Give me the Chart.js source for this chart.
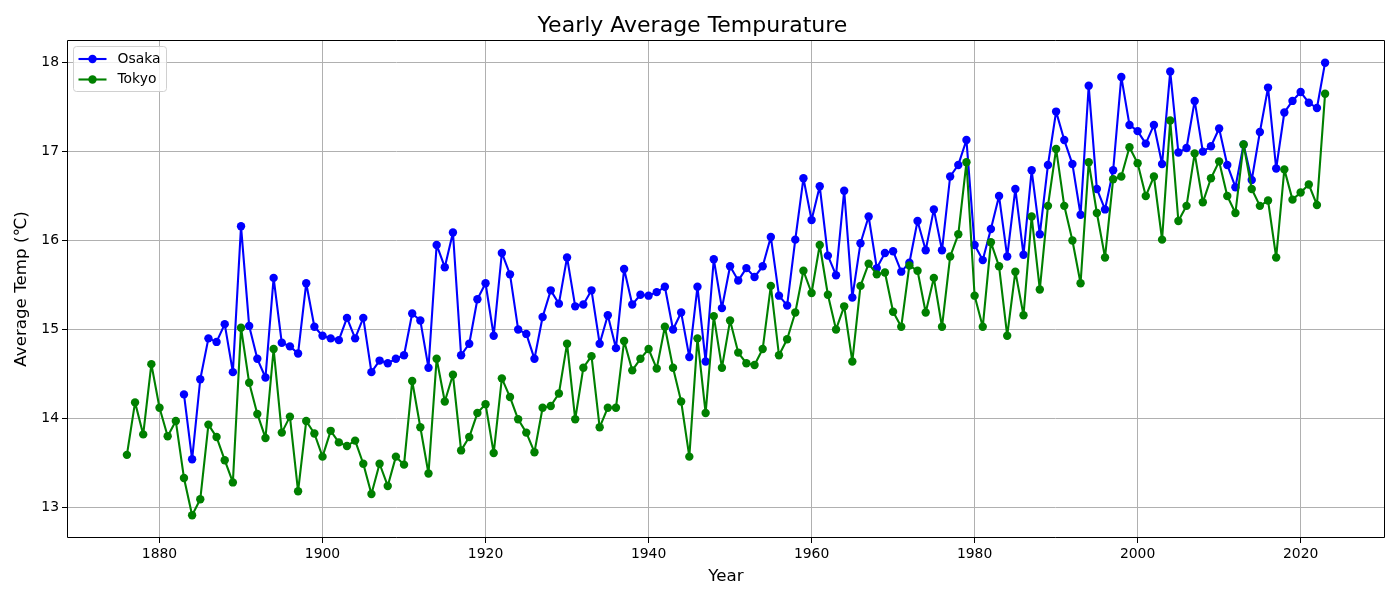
<!DOCTYPE html>
<html>
<head>
<meta charset="utf-8">
<script src="https://cdn.jsdelivr.net/npm/chart.js@4.4.1/dist/chart.umd.min.js"></script>
<style>
  html, body { margin: 0; padding: 0; background: #ffffff; }
  #wrap { width: 1400px; height: 600px; position: relative; }
</style>
</head>
<body>
<div id="wrap"><canvas id="c" width="1400" height="600"></canvas></div>
<script>
// ---- data ----
const chartTitle = "Yearly Average Tempurature";
const xTitle = "Year";
const yTitle = "Average Temp (℃)";
const seriesNames = ["Osaka", "Tokyo"];
const osakaFirstYear = 1883;
const tokyoFirstYear = 1876;
const xTickValues = [1880, 1900, 1920, 1940, 1960, 1980, 2000, 2020];
const yTickValues = [13, 14, 15, 16, 17, 18];

const osakaTemps = [
  14.27, 13.54, 14.44, 14.90, 14.86, 15.06, 14.52,               // 1883-1889
  16.16, 15.04, 14.67, 14.46, 15.58, 14.85, 14.81, 14.73, 15.52, 15.03, // 1890s
  14.93, 14.90, 14.88, 15.13, 14.90, 15.13, 14.52, 14.65, 14.62, 14.67, // 1900s
  14.71, 15.18, 15.10, 14.57, 15.95, 15.70, 16.09, 14.71, 14.84, 15.34, // 1910s
  15.52, 14.93, 15.86, 15.62, 15.00, 14.95, 14.67, 15.14, 15.44, 15.29, // 1920s
  15.81, 15.26, 15.28, 15.44, 14.84, 15.16, 14.79, 15.68, 15.28, 15.39, // 1930s
  15.38, 15.42, 15.48, 15.00, 15.19, 14.69, 15.48, 14.64, 15.79, 15.24, // 1940s
  15.71, 15.55, 15.69, 15.59, 15.71, 16.04, 15.38, 15.27, 16.01, 16.70, // 1950s
  16.23, 16.61, 15.83, 15.61, 16.56, 15.36, 15.97, 16.27, 15.69, 15.86, // 1960s
  15.88, 15.65, 15.75, 16.22, 15.89, 16.35, 15.89, 16.72, 16.85, 17.13, // 1970s
  15.95, 15.78, 16.13, 16.50, 15.82, 16.58, 15.84, 16.79, 16.07, 16.85, // 1980s
  17.45, 17.13, 16.86, 16.29, 17.74, 16.58, 16.35, 16.79, 17.84, 17.30, // 1990s
  17.23, 17.09, 17.30, 16.86, 17.90, 16.99, 17.04, 17.57, 17.00, 17.06, // 2000s
  17.26, 16.85, 16.60, 17.08, 16.68, 17.22, 17.72, 16.81, 17.44, 17.57, // 2010s
  17.67, 17.55, 17.49, 18.00                                            // 2020-2023
];

const tokyoTemps = [
  13.59, 14.18, 13.82, 14.61,                                           // 1876-1879
  14.12, 13.80, 13.97, 13.33, 12.91, 13.09, 13.93, 13.79, 13.53, 13.28, // 1880s
  15.02, 14.40, 14.05, 13.78, 14.78, 13.84, 14.02, 13.18, 13.97, 13.83, // 1890s
  13.57, 13.86, 13.73, 13.69, 13.75, 13.49, 13.15, 13.49, 13.24, 13.57, // 1900s
  13.48, 14.42, 13.90, 13.38, 14.67, 14.19, 14.49, 13.64, 13.79, 14.06, // 1910s
  14.16, 13.61, 14.45, 14.24, 13.99, 13.84, 13.62, 14.12, 14.14, 14.28, // 1920s
  14.84, 13.99, 14.57, 14.70, 13.90, 14.12, 14.12, 14.87, 14.54, 14.67, // 1930s
  14.78, 14.56, 15.03, 14.57, 14.19, 13.57, 14.90, 14.06, 15.15, 14.57, // 1940s
  15.10, 14.74, 14.62, 14.60, 14.78, 15.49, 14.71, 14.89, 15.19, 15.66, // 1950s
  15.41, 15.95, 15.39, 15.00, 15.26, 14.64, 15.49, 15.74, 15.62, 15.64, // 1960s
  15.20, 15.03, 15.72, 15.66, 15.19, 15.58, 15.03, 15.82, 16.07, 16.88, // 1970s
  15.38, 15.03, 15.98, 15.71, 14.93, 15.65, 15.16, 16.27, 15.45, 16.39, // 1980s
  17.03, 16.39, 16.00, 15.52, 16.88, 16.31, 15.81, 16.69, 16.72, 17.05, // 1990s
  16.87, 16.50, 16.72, 16.01, 17.35, 16.22, 16.39, 16.98, 16.43, 16.70, // 2000s
  16.89, 16.50, 16.31, 17.08, 16.58, 16.39, 16.45, 15.81, 16.80, 16.46, // 2010s
  16.54, 16.63, 16.40, 17.65                                            // 2020-2023
];

// ---- build library data ----
const toPoints = (first, vals) => vals.map((v, i) => ({ x: first + i, y: v }));
const FONT = "'DejaVu Sans', sans-serif";

const frameAndLegend = {
  id: 'frameAndLegend',
  afterDraw(chart) {
    const { ctx, chartArea: a } = chart;
    ctx.save();
    // full frame (spines)
    const L = Math.round(a.left) + 0.5, R = Math.round(a.right) - 0.5;
    const T = Math.round(a.top) + 0.5, B = Math.round(a.bottom) - 0.5;
    ctx.strokeStyle = '#000000';
    ctx.lineWidth = 1;
    ctx.beginPath();
    ctx.moveTo(L, T); ctx.lineTo(R, T); ctx.lineTo(R, B); ctx.lineTo(L, B); ctx.closePath();
    ctx.stroke();
    // legend box
    const bx = a.left + 6.5, by = a.top + 6.5, bw = 93, bh = 45, r = 3;
    ctx.beginPath();
    ctx.moveTo(bx + r, by);
    ctx.lineTo(bx + bw - r, by); ctx.quadraticCurveTo(bx + bw, by, bx + bw, by + r);
    ctx.lineTo(bx + bw, by + bh - r); ctx.quadraticCurveTo(bx + bw, by + bh, bx + bw - r, by + bh);
    ctx.lineTo(bx + r, by + bh); ctx.quadraticCurveTo(bx, by + bh, bx, by + bh - r);
    ctx.lineTo(bx, by + r); ctx.quadraticCurveTo(bx, by, bx + r, by);
    ctx.closePath();
    ctx.fillStyle = 'rgba(255,255,255,0.8)';
    ctx.fill();
    ctx.strokeStyle = '#d0d0d0';
    ctx.lineWidth = 1;
    ctx.stroke();
    chart.data.datasets.forEach((ds, i) => {
      const y = by + 12.5 + i * 20.5;
      ctx.strokeStyle = ds.borderColor;
      ctx.lineWidth = 2.1;
      ctx.beginPath();
      ctx.moveTo(bx + 5, y); ctx.lineTo(bx + 33, y);
      ctx.stroke();
      ctx.fillStyle = ds.borderColor;
      ctx.beginPath();
      ctx.arc(bx + 19, y, 4.2, 0, Math.PI * 2);
      ctx.fill();
      ctx.fillStyle = '#000000';
      ctx.font = '13.9px ' + FONT;
      ctx.textBaseline = 'middle';
      ctx.textAlign = 'left';
      ctx.fillText(ds.label, bx + 44, y);
    });
    ctx.restore();
  }
};

new Chart(document.getElementById('c'), {
  type: 'line',
  data: {
    datasets: [
      {
        label: seriesNames[0],
        data: toPoints(osakaFirstYear, osakaTemps),
        borderColor: '#0000ff',
        backgroundColor: '#0000ff',
        pointBackgroundColor: '#0000ff',
        order: 1
      },
      {
        label: seriesNames[1],
        data: toPoints(tokyoFirstYear, tokyoTemps),
        borderColor: '#008000',
        backgroundColor: '#008000',
        pointBackgroundColor: '#008000',
        order: 0
      }
    ]
  },
  options: {
    responsive: false,
    animation: false,
    devicePixelRatio: 1,
    layout: { padding: { left: 0, right: 15, top: 0, bottom: 0 } },
    elements: {
      line: { borderWidth: 2.1, tension: 0, borderJoinStyle: 'round', borderCapStyle: 'round' },
      point: { radius: 4.2, borderWidth: 0, hoverRadius: 4.2, hoverBorderWidth: 0 }
    },
    plugins: {
      legend: { display: false },
      tooltip: { enabled: false },
      title: {
        display: true,
        text: chartTitle,
        color: '#000000',
        font: { family: FONT, size: 22, weight: 'normal', lineHeight: 1 },
        padding: { top: 15, bottom: 3 }
      }
    },
    scales: {
      x: {
        type: 'linear',
        min: 1868.65,
        max: 2030.35,
        afterBuildTicks: (s) => { s.ticks = xTickValues.map(v => ({ value: v })); },
        afterFit: (s) => { s.height = 62; },
        ticks: {
          color: '#000000',
          font: { family: FONT, size: 13.9 },
          padding: 3,
          maxRotation: 0,
          autoSkip: false,
          callback: (v) => String(v)
        },
        grid: { color: '#b0b0b0', lineWidth: 1, tickColor: '#000000', tickLength: 5 },
        border: { display: false },
        title: {
          display: true,
          text: xTitle,
          color: '#000000',
          font: { family: FONT, size: 16.7 },
          padding: { top: 4, bottom: 13 }
        }
      },
      y: {
        type: 'linear',
        min: 12.655,
        max: 18.255,
        afterBuildTicks: (s) => { s.ticks = yTickValues.map(v => ({ value: v })); },
        afterFit: (s) => { s.width = 67; },
        ticks: {
          color: '#000000',
          font: { family: FONT, size: 13.9 },
          padding: 3,
          autoSkip: false,
          callback: (v) => String(v)
        },
        grid: { color: '#b0b0b0', lineWidth: 1, tickColor: '#000000', tickLength: 5 },
        border: { display: false },
        title: {
          display: true,
          text: yTitle,
          color: '#000000',
          font: { family: FONT, size: 16.7 },
          padding: { top: 12, bottom: 4 }
        }
      }
    }
  },
  plugins: [frameAndLegend]
});
</script>
</body>
</html>
